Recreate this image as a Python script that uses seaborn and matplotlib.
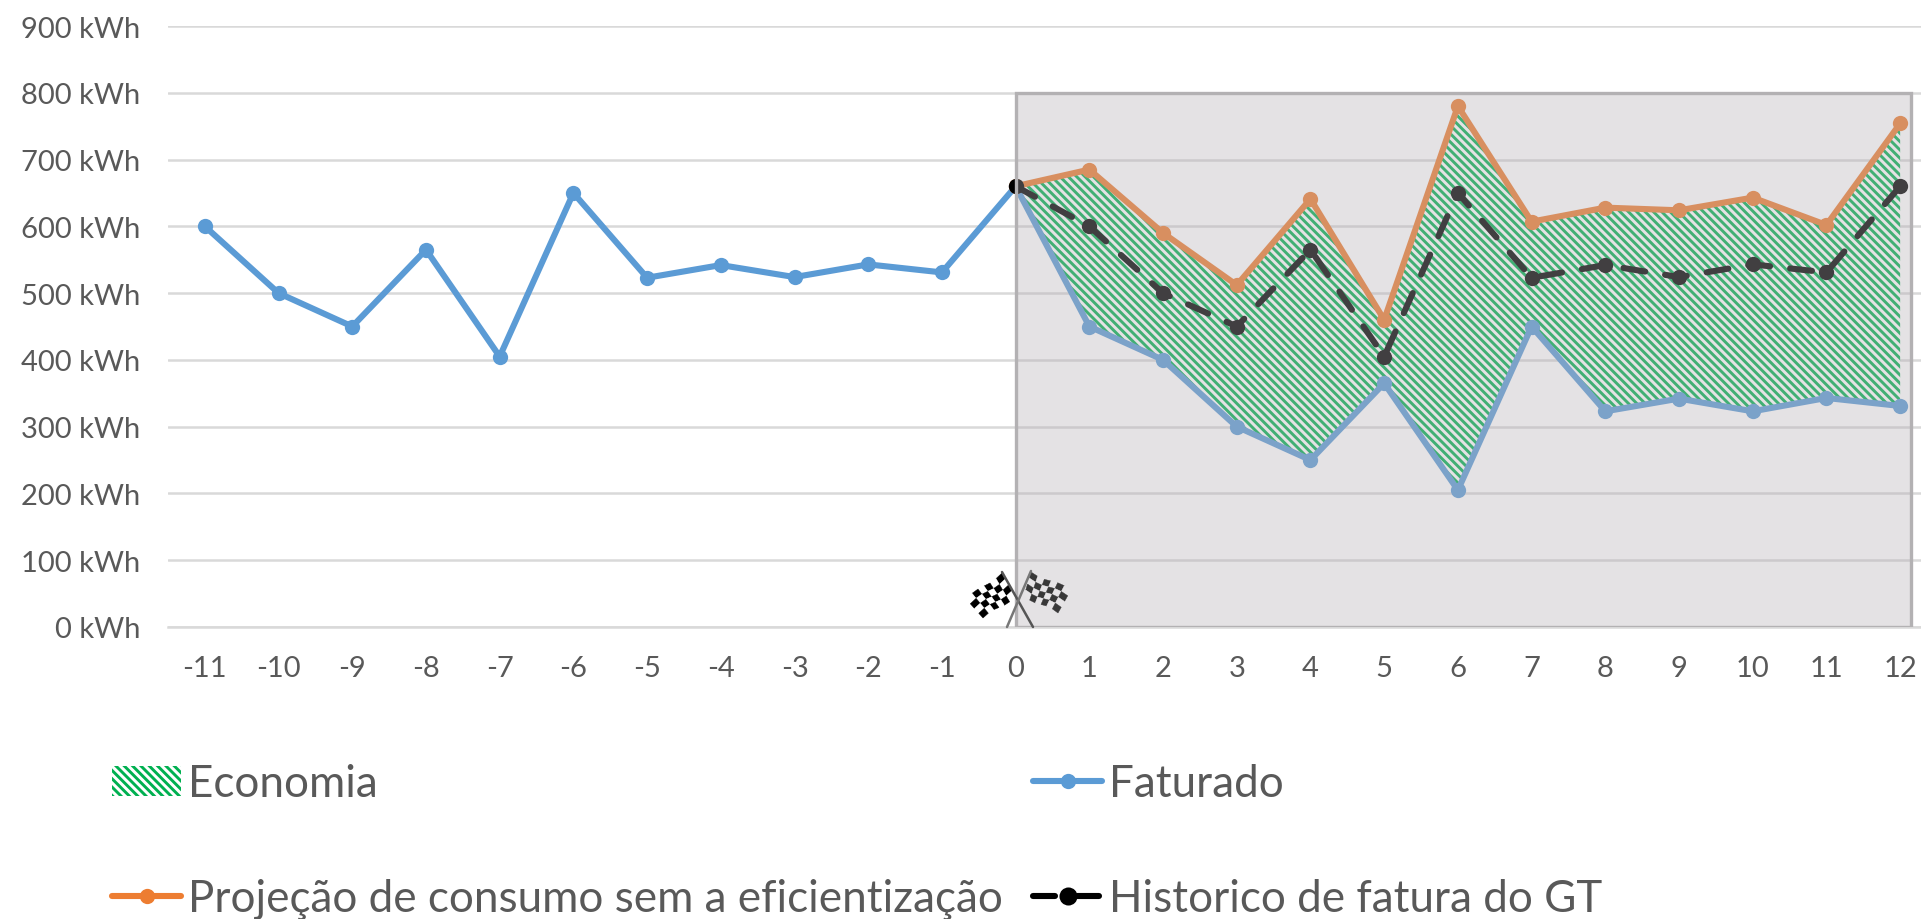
import numpy as np
import pandas as pd
import matplotlib
matplotlib.use("Agg")
import matplotlib.pyplot as plt
from matplotlib.lines import Line2D
from matplotlib.patches import Patch, Rectangle, Polygon
import seaborn as sns

# values
meses = list(range(-11, 13))
meses_pos = list(range(0, 13))
faturado = [600, 500, 450, 565, 405, 650, 523, 542, 524, 543, 531,
            660, 450, 400, 300, 250, 365, 205, 450, 323, 342, 323, 343, 331]
projecao = [660, 685, 590, 512, 641, 460, 780, 607, 628, 624, 643, 602, 754]
historico = [660, 600, 500, 450, 565, 405, 650, 523, 542, 524, 543, 531, 660]
faturado_pos = faturado[11:]
yticks = list(range(0, 1000, 100))

AZUL = "#5b9bd5"
LARANJA = "#ed7d31"
VERDE = "#00b050"
PRETO = "#000000"
TEXTO = "#595959"

sns.set_theme(style="white")
plt.rcParams["font.family"] = ["Lato", "DejaVu Sans"]
plt.rcParams["hatch.linewidth"] = 2.1

W, H = 1921, 920
fig = plt.figure(figsize=(W / 100, H / 100), dpi=100, facecolor="white")
# x axis runs past the right edge of the image, like the original crop
ax = fig.add_axes([168 / W, (H - 628) / H, (1937 - 168) / W, 601 / H])

df1 = pd.DataFrame({"mes": meses, "kwh": faturado})
df2 = pd.DataFrame({"mes": meses_pos, "kwh": projecao})
df3 = pd.DataFrame({"mes": meses_pos, "kwh": historico})

ax.fill_between(meses_pos, faturado_pos, projecao, facecolor="white",
                edgecolor=VERDE, hatch="\\" * 4, linewidth=0, zorder=2)

estilo = dict(marker="o", markersize=11, markeredgewidth=0, linewidth=4.4, zorder=3)
sns.lineplot(data=df1, x="mes", y="kwh", color=AZUL, ax=ax, **estilo)
sns.lineplot(data=df2, x="mes", y="kwh", color=LARANJA, ax=ax, **estilo)
sns.lineplot(data=df3, x="mes", y="kwh", color=PRETO, ax=ax, **estilo)
ax.lines[-1].set_linestyle((0, (3.6, 3.3)))
ax.lines[-1].set_dash_capstyle("round")
ax.lines[0].set_solid_capstyle("round")
ax.lines[1].set_solid_capstyle("round")

# grey box laid over the period after the start
ax.add_patch(Rectangle((0, 0), 12.15, 800, facecolor="#b5afb5", alpha=0.36,
                       edgecolor="none", zorder=4))
ax.add_patch(Rectangle((0, 0), 12.15, 800, facecolor="none",
                       edgecolor="#b3b1b3", linewidth=2.4, zorder=5))

ax.set_xlim(-11.5, 12.5)
ax.set_ylim(0, 900)
ax.set_xticks(meses)
ax.set_xticklabels([str(m) for m in meses])
ax.set_yticks(yticks)
ax.set_yticklabels([f"{v} kWh" for v in yticks])
ax.set_xlabel("")
ax.set_ylabel("")
ax.grid(axis="y", color="#d9d9d9", linewidth=1.8)
ax.set_axisbelow(True)
sns.despine(ax=ax, left=True, top=True, right=True)
ax.spines["bottom"].set_color("#d9d9d9")
ax.spines["bottom"].set_linewidth(1.8)
ax.tick_params(axis="both", length=0, labelsize=21, labelcolor=TEXTO)
ax.tick_params(axis="x", pad=20)
ax.tick_params(axis="y", pad=20)

handles = [
    Patch(facecolor="white", edgecolor=VERDE, hatch="\\" * 4, linewidth=0),
    Line2D([], [], color=LARANJA, lw=4.4, marker="o", ms=11, mew=0),
    Line2D([], [], color=AZUL, lw=4.4, marker="o", ms=11, mew=0),
    Line2D([], [], color=PRETO, lw=4.4, marker="o", ms=13, mew=0,
           ls=(0, (3.6, 3.6)), dash_capstyle="round"),
]
labels = ["Economia", "Projeção de consumo sem a eficientização",
          "Faturado", "Historico de fatura do GT"]
fig.legend(handles, labels, ncol=2, frameon=False, fontsize=31.7, labelcolor=TEXTO,
           loc="lower left", bbox_to_anchor=(112 / W, 0), borderaxespad=0,
           borderpad=0, handlelength=1.57, handleheight=0.7, handletextpad=0.16,
           columnspacing=0.68, labelspacing=1.67)

# checkered flags at month 0, drawn in image pixels
fl = fig.add_axes([0, 0, 1, 1], zorder=10)
fl.set_xlim(0, W)
fl.set_ylim(H, 0)
fl.axis("off")


def bandeira(p00, p10, p01, p11, escuro, claro):
    p00, p10, p01, p11 = map(np.array, (p00, p10, p01, p11))
    nu, nv = 6, 4

    def ponto(u, v):
        q = (1 - u) * (1 - v) * p00 + u * (1 - v) * p01 + (1 - u) * v * p10 + u * v * p11
        return q + np.array([0, 1.5 * np.sin(u * 2 * np.pi)])

    for i in range(nu):
        for j in range(nv):
            us, vs = [i / nu, (i + 1) / nu], [j / nv, (j + 1) / nv]
            cor = escuro if (i + j) % 2 == 0 else claro
            fl.add_patch(Polygon([ponto(us[0], vs[0]), ponto(us[1], vs[0]),
                                  ponto(us[1], vs[1]), ponto(us[0], vs[1])],
                                 facecolor=cor, edgecolor=cor, linewidth=0.3))


bandeira((1002, 574), (1015, 598), (966, 600), (983, 619), "#000000", "#ffffff")
bandeira((1031, 573), (1024, 597), (1071, 591), (1058, 614), "#383838", "#e6e4e6")
fl.plot([1002, 1033], [573, 628], color="#555555", lw=1.8)
fl.plot([1031, 1007], [572, 628], color="#777777", lw=1.8)

fig.savefig("out.png", dpi=100)
